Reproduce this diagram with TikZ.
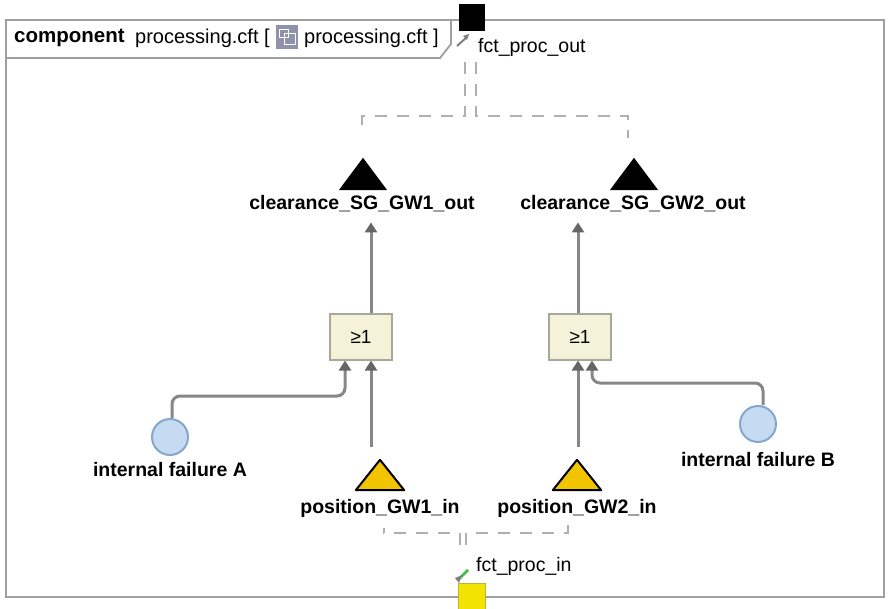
\documentclass[tikz,border=0pt]{standalone}
\usepackage{fontspec}
\setmainfont{Liberation Sans}
\usetikzlibrary{arrows.meta}
\definecolor{framegray}{HTML}{A39E9E}
\definecolor{conngray}{HTML}{878787}
\definecolor{tipgray}{HTML}{666666}
\definecolor{dashgray}{HTML}{B0B0B0}
\definecolor{gatefill}{HTML}{F4F3DA}
\definecolor{gatedraw}{HTML}{A8A898}
\definecolor{evfill}{HTML}{C6DBF1}
\definecolor{evdraw}{HTML}{86A6CC}
\definecolor{portyellow}{HTML}{F2C400}
\definecolor{sqyellow}{HTML}{F2E400}
\definecolor{iconblue}{HTML}{8E92AA}
\tikzset{
  lbl/.style={font=\fontsize{19.5}{21}\selectfont\bfseries, inner sep=0pt},
  plain/.style={font=\fontsize{19.5}{21}\selectfont, inner sep=0pt},
  gatebox/.style={draw=gatedraw, fill=gatefill, line width=2pt, minimum width=62pt, minimum height=45pt, inner sep=0pt, font=\fontsize{19}{21}\selectfont},
  evnode/.style={circle, draw=evdraw, fill=evfill, line width=2pt, minimum size=36pt, inner sep=0pt},
  portbox/.style={inner sep=0pt, minimum width=48pt, minimum height=32pt},
  conn/.style={draw=conngray, line width=3pt, rounded corners=8pt, -{Triangle[length=10pt,width=12pt,fill=tipgray,color=tipgray]}},
  dsh/.style={draw=dashgray, line width=2pt, dash pattern=on 12pt off 10pt},
}
\begin{document}
\begin{tikzpicture}[x=1pt,y=-1pt]
\useasboundingbox (0,0) rectangle (888,609);
\fill[white] (0,0) rectangle (888,609);
% outer frame
\draw[framegray, line width=2.8pt] (6,20) rectangle (884,597);
% tab
\draw[framegray, line width=1.8pt] (6,58) -- (440,58) -- (451,44) -- (451,20);
\node[lbl, font=\fontsize{20.5}{22}\selectfont\bfseries, anchor=west] (hc) at (14,38) {component};
\node[plain, font=\fontsize{20}{22}\selectfont, anchor=west] (hp1) at (135,38) {processing.cft [};
\node[fill=iconblue, minimum width=22pt, minimum height=24pt, inner sep=0pt] (hicon) at (287,37) {};
\draw[white, line width=1pt] (279,30) rectangle (288,38) (284,34) rectangle (295,45);
\node[plain, font=\fontsize{20}{22}\selectfont, anchor=west] (hp2) at (304,38) {processing.cft ]};
% top port
\node[fill=black, minimum width=26pt, minimum height=27pt, inner sep=0pt] (sq) at (472,18) {};
\draw[gray, line width=2pt] (457,46) -- (467,37);
\fill[gray] (469,34) -- (463,36) -- (467,40) -- cycle;
\node[plain, anchor=west] (outl) at (478,47) {fct\_proc\_out};
% output triangles
\node[portbox] (t1) at (363,174) {};
\fill[black] (t1.south west) -- (t1.north) -- (t1.south east) -- cycle;
\node[lbl] (t1l) at (362,204) {clearance\_SG\_GW1\_out};
\node[portbox] (t2) at (634,174) {};
\fill[black] (t2.south west) -- (t2.north) -- (t2.south east) -- cycle;
\node[lbl] (t2l) at (633,204) {clearance\_SG\_GW2\_out};
% top dashed links
\coordinate (d1) at (362,128);
\coordinate (d2) at (628,138);
\draw[dsh] ([xshift=-7pt,yshift=-30pt]sq.south) -- ++(0,54) -| (d1);
\draw[dsh] ([xshift=4pt,yshift=-30pt]sq.south) -- ++(0,54) -| (d2);
% gates
\node[gatebox] (g1) at (361,337) {≥1};
\node[gatebox] (g2) at (580,337) {≥1};
\draw[conn] ([xshift=10pt]g1.north) -- ([xshift=9pt,yshift=-10pt]t1l.south);
\draw[conn] ([xshift=-2pt]g2.north) -- ([xshift=-55pt,yshift=-10pt]t2l.south);
% events
\node[evnode] (ea) at (170,437) {};
\node[lbl] (eal) at (170,470) {internal failure A};
\node[evnode] (eb) at (758,424) {};
\node[lbl] (ebl) at (758,460) {internal failure B};
\draw[conn] ([xshift=2pt]ea.north) -- ++(0,-22) -| ([xshift=-16pt]g1.south);
\draw[conn] ([xshift=5pt]eb.north) -- ++(0,-22) -| ([xshift=12pt]g2.south);
% input triangles
\node[portbox, minimum height=30pt] (p1) at (380,475) {};
\draw[black, fill=portyellow, line width=2pt, line join=round] (p1.south west) -- (p1.north) -- (p1.south east) -- cycle;
\node[lbl] (p1l) at (380,508) {position\_GW1\_in};
\node[portbox, minimum height=30pt] (p2) at (577,475) {};
\draw[black, fill=portyellow, line width=2pt, line join=round] (p2.south west) -- (p2.north) -- (p2.south east) -- cycle;
\node[lbl] (p2l) at (577,508) {position\_GW2\_in};
\draw[conn] ([xshift=-9pt,yshift=13pt]p1.north) -- ([xshift=10pt]g1.south);
\draw[conn] ([xshift=1pt,yshift=13pt]p2.north) -- ([xshift=-2pt]g2.south);
% bottom port
\node[fill=sqyellow, draw=yellow!70!black, line width=1pt, minimum width=27pt, minimum height=27pt, inner sep=0pt] (ysq) at (472,597) {};
\draw[green!50!gray, line width=2.5pt] (458,580) -- (468,570);
\fill[gray] (455,578) -- (462,575) -- (459,583) -- cycle;
\node[plain, anchor=west] (inl) at (476,566) {fct\_proc\_in};
\coordinate (d3) at (384,528);
\coordinate (d4) at (568,522);
\draw[dsh] ([xshift=-12pt,yshift=38pt]ysq.north) -- ++(0,-12) -| (d3);
\draw[dsh] ([xshift=-6pt,yshift=38pt]ysq.north) -- ++(0,-12) -| (d4);
\end{tikzpicture}
\end{document}
